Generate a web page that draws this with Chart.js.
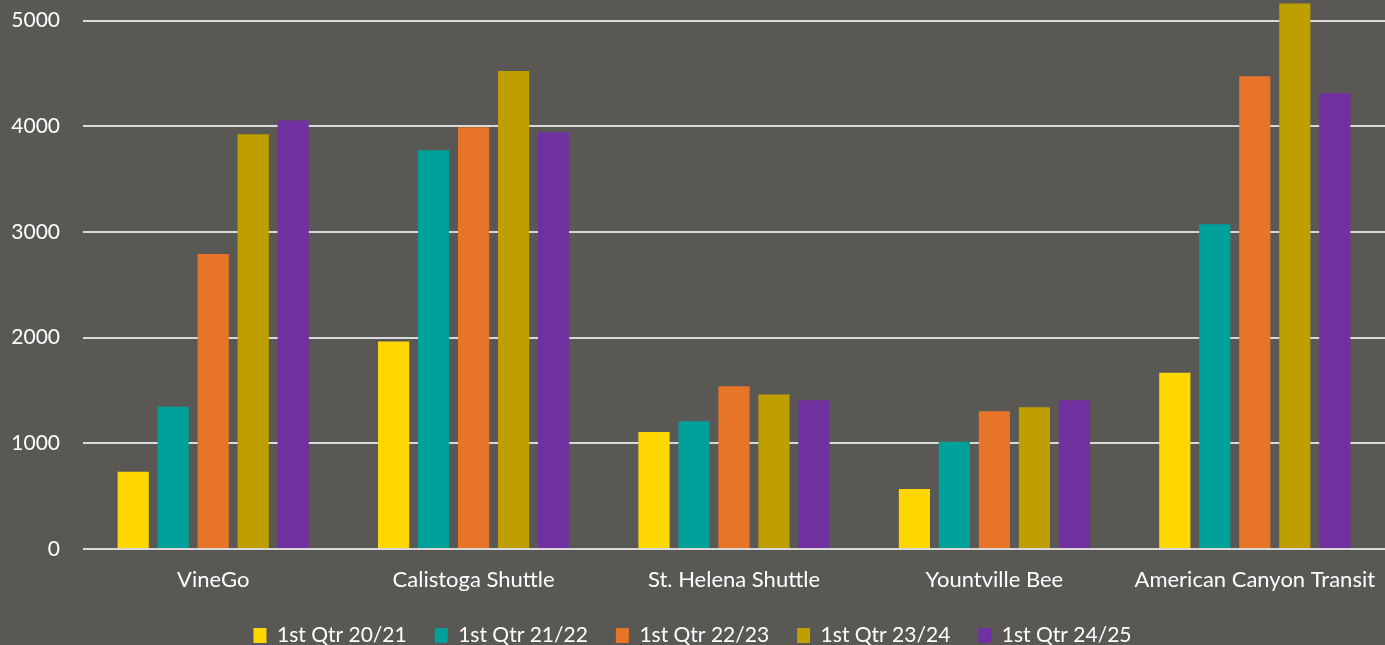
<!DOCTYPE html>
<html>
<head>
<meta charset="utf-8">
<script src="https://cdn.jsdelivr.net/npm/chart.js@4"></script>
<style>
  html, body { margin: 0; padding: 0; background: #5a5855; }
  #wrap { width: 1385px; height: 645px; position: relative; }
</style>
</head>
<body>
<div id="wrap"><canvas id="ridership"></canvas></div>
<script>
// Chart data
const categories = ['VineGo', 'Calistoga Shuttle', 'St. Helena Shuttle', 'Yountville Bee', 'American Canyon Transit'];
const seriesLabels = ['1st Qtr 20/21', '1st Qtr 21/22', '1st Qtr 22/23', '1st Qtr 23/24', '1st Qtr 24/25'];
const q2021 = [730, 1963, 1106, 567, 1667];
const q2122 = [1345, 3774, 1210, 1014, 3074];
const q2223 = [2791, 3991, 1541, 1304, 4474];
const q2324 = [3925, 4524, 1462, 1342, 5162];
const q2425 = [4055, 3944, 1408, 1408, 4312];
const yTicks = [0, 1000, 2000, 3000, 4000, 5000];

const colors = ['#FFD700', '#00A19A', '#E87427', '#BF9F00', '#7030A0'];
const seriesValues = [q2021, q2122, q2223, q2324, q2425];

const fontFamily = 'Lato, "Open Sans", sans-serif';
const textColor = '#ffffff';
const gridColor = '#d9d9d9';

const ctx = document.getElementById('ridership').getContext('2d');

new Chart(ctx, {
  type: 'bar',
  data: {
    labels: categories,
    datasets: seriesValues.map((values, i) => ({
      label: seriesLabels[i],
      data: values,
      backgroundColor: colors[i],
      borderWidth: 0,
      categoryPercentage: 0.768,
      barPercentage: 0.78
    }))
  },
  options: {
    responsive: true,
    maintainAspectRatio: false,
    animation: false,
    layout: {
      padding: 0
    },
    plugins: {
      legend: {
        position: 'bottom',
        maxHeight: 48,
        labels: {
          color: textColor,
          font: { family: fontFamily, size: 21 },
          boxWidth: 13,
          boxHeight: 15,
          padding: 28
        }
      },
      tooltip: { enabled: false }
    },
    scales: {
      x: {
        afterFit: scale => {
          scale.height = 48;
          scale.paddingLeft = 0;
          scale.paddingRight = 0;
        },
        grid: { display: false, drawTicks: false },
        border: { display: false },
        ticks: {
          color: textColor,
          font: { family: fontFamily, size: 22 },
          padding: 18,
          maxRotation: 0
        }
      },
      y: {
        min: 0,
        max: 5190,
        afterBuildTicks: scale => {
          scale.ticks = yTicks.map(v => ({ value: v }));
        },
        afterFit: scale => {
          scale.width = 83;
        },
        grid: {
          color: gridColor,
          lineWidth: 2,
          drawTicks: true,
          tickLength: 23,
          tickColor: 'rgba(0,0,0,0)'
        },
        border: { display: false },
        ticks: {
          color: textColor,
          font: { family: fontFamily, size: 21, lineHeight: 0.05 },
          padding: 0,
          callback: value => String(value)
        }
      }
    }
  }
});
</script>
</body>
</html>
